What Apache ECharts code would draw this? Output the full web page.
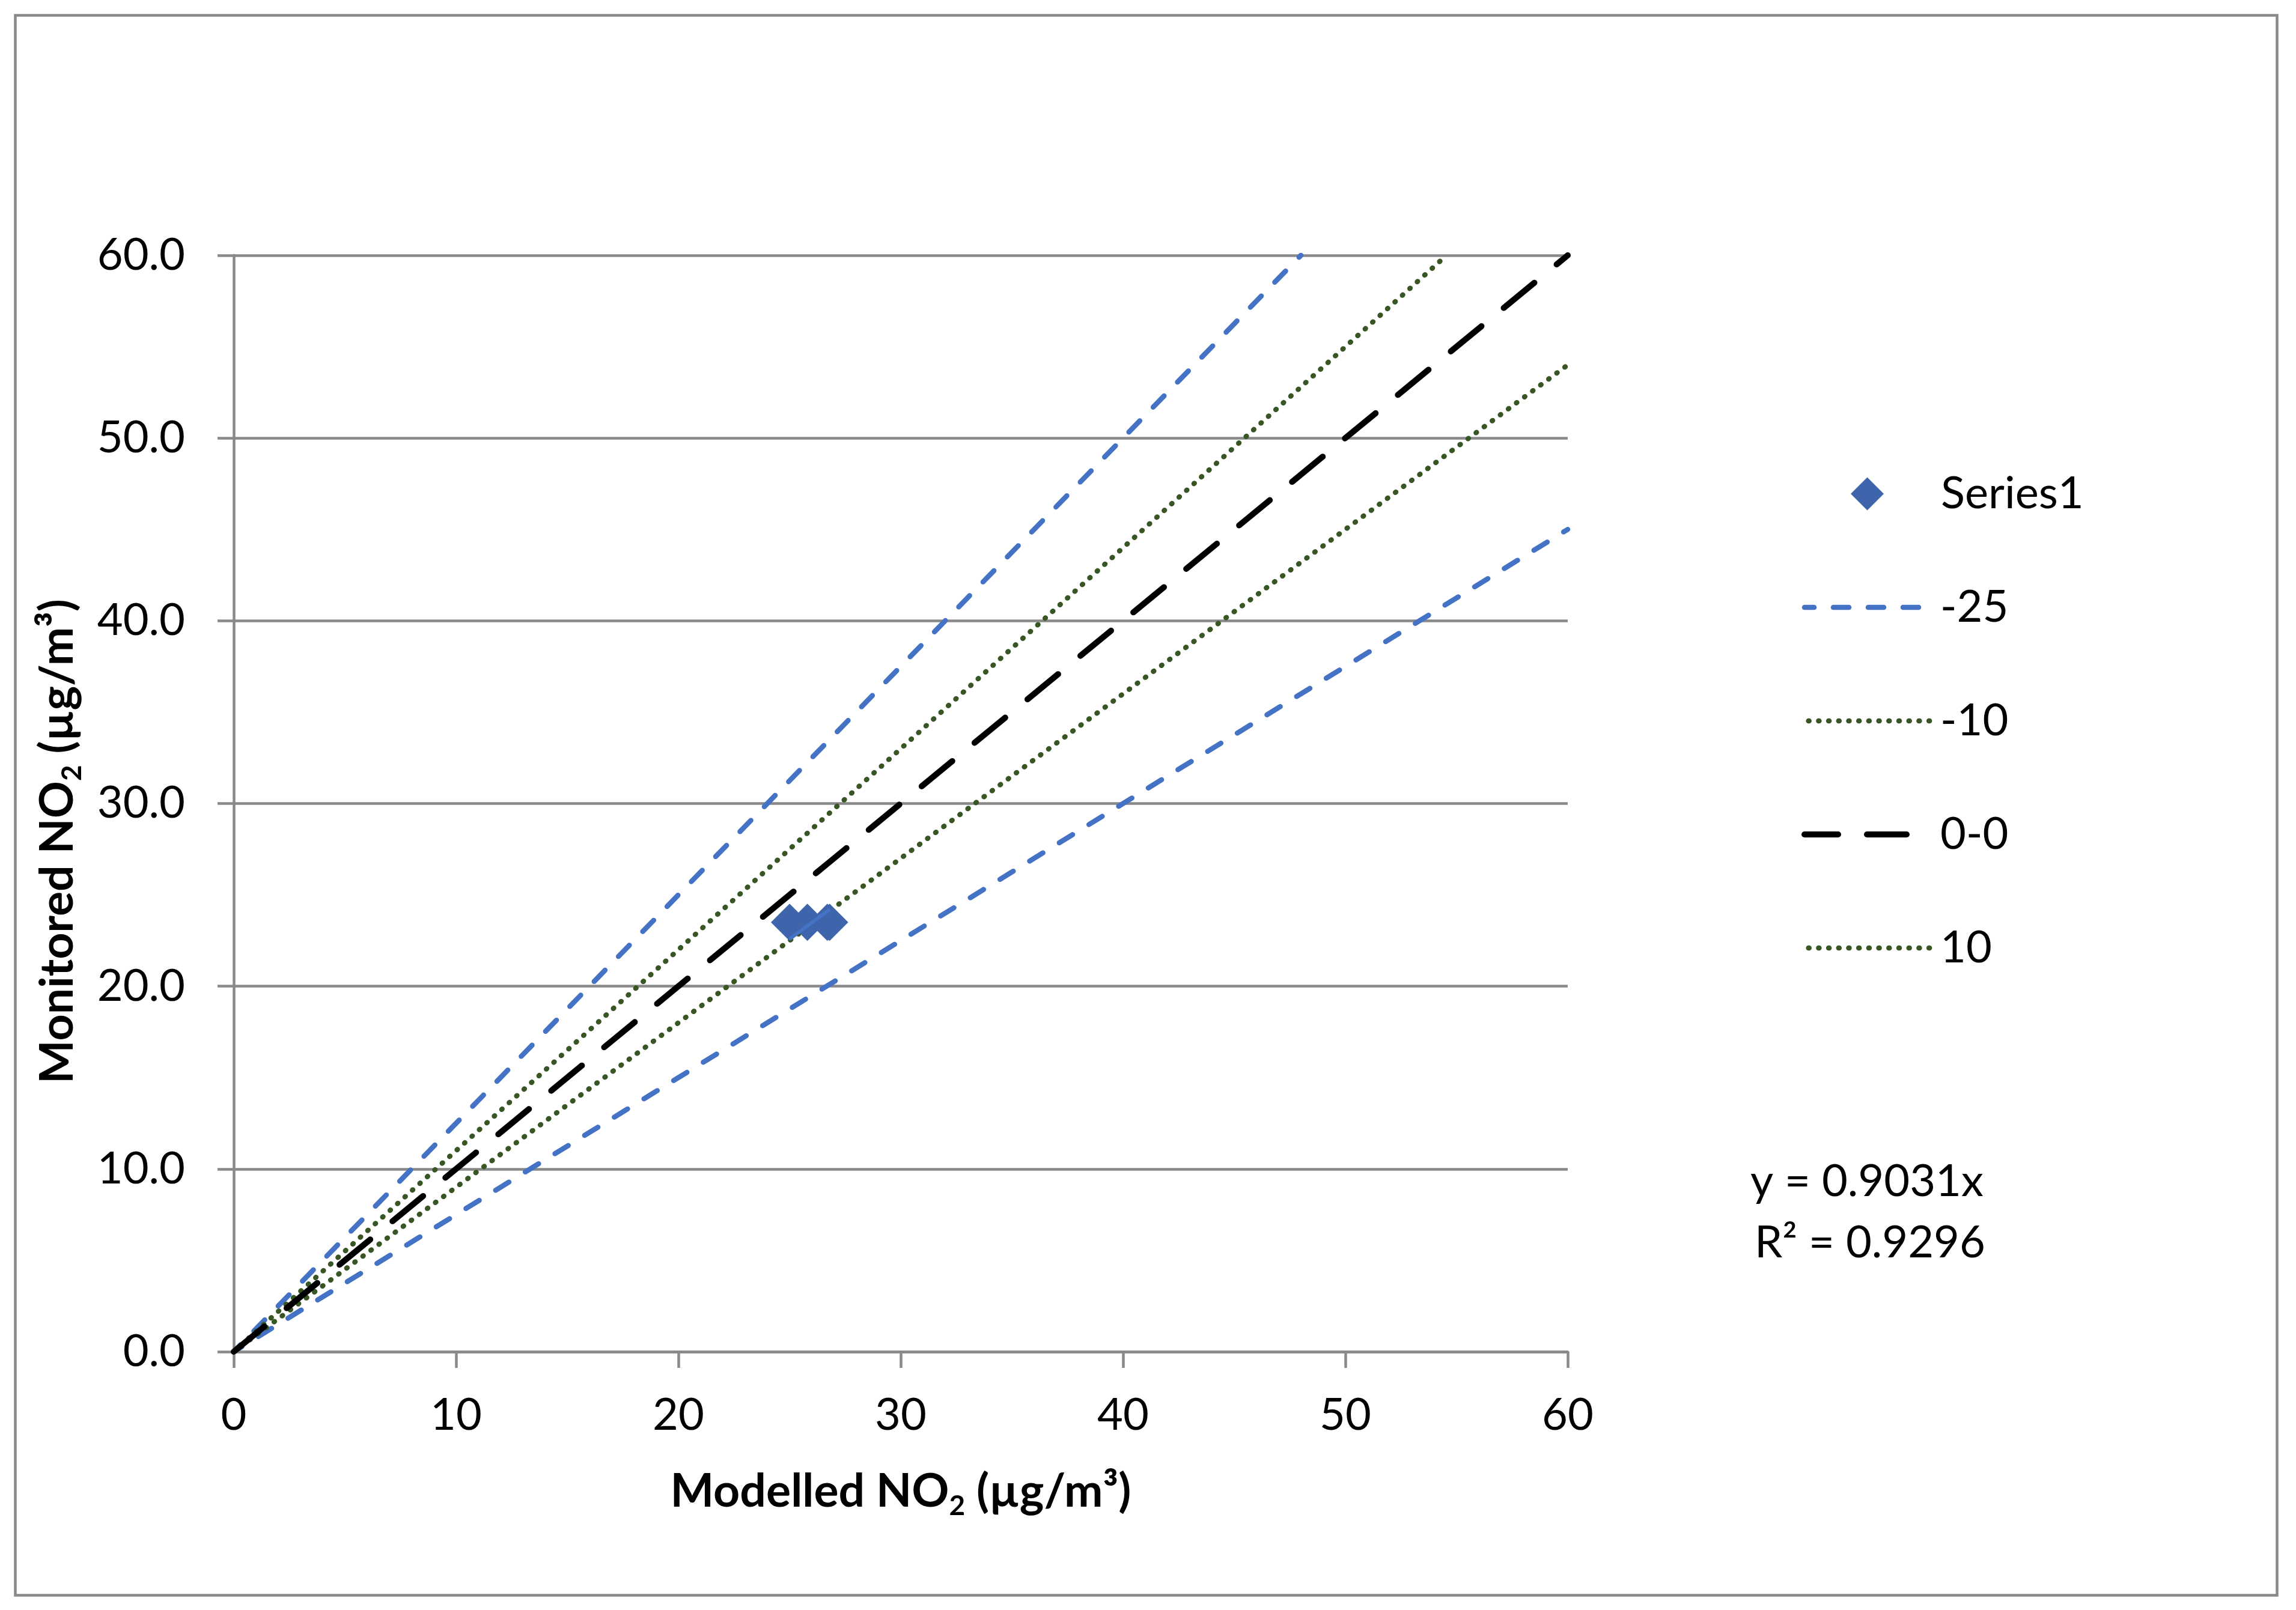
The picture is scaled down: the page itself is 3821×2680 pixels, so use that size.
<!DOCTYPE html>
<html><head><meta charset="utf-8">
<script src="https://cdn.jsdelivr.net/npm/echarts@6/dist/echarts.min.js"></script>
<style>html,body{margin:0;padding:0;background:#fff}#c{width:3821px;height:2680px}</style>
</head><body><div id="c"></div>
<script>
// ---- data ----
const xTicks = [0, 10, 20, 30, 40, 50, 60];
const yTicks = [0, 10, 20, 30, 40, 50, 60];
const series1Points = [[25.0, 23.5], [25.8, 23.5], [26.7, 23.5], [26.8, 23.5]];
const trendPoints = [[25.0, 22.58], [26.8, 24.20]];
const lineMinus25 = [[0, 0], [48, 60]];
const lineMinus10 = [[0, 0], [54.55, 60]];
const lineZero = [[0, 0], [60, 60]];
const linePlus10 = [[0, 0], [60, 54]];
const linePlus25 = [[0, 0], [60, 45]];
const legendPointNames = ['Series1'];
const legendLineNames = ['-25', '-10', '0-0', '10'];
const equationText = 'y = 0.9031x';
const r2Text = 'R\u00B2 = 0.9296';

const FONT = 'Lato, "Noto Sans", sans-serif';
const GRAY = '#898989';
const BLUE = '#4472C4';
const GREEN = '#375623';
const DIAMOND = '#3E64AC';

const titleRich = {
  b: {fontSize: 77, fontWeight: 'bold', fontFamily: FONT, color: '#000', lineHeight: 94},
  s: {fontSize: 46, fontWeight: 'bold', fontFamily: FONT, color: '#000', lineHeight: 28, verticalAlign: 'bottom'}
};

const chart = echarts.init(document.getElementById('c'), null, {renderer: 'canvas'});
const dashed = {color: BLUE, width: 8.5, type: [26, 32], dashOffset: 10, cap: 'round'};
const dotted = {color: GREEN, width: 8.5, type: [1, 15.7], cap: 'round'};
const longDash = {color: '#000', width: 10, type: [66, 48], cap: 'round'};

const legendText = {fontSize: 74, fontFamily: FONT, color: '#000', lineHeight: 74};

chart.setOption({
  backgroundColor: '#fff',
  animation: false,
  grid: {left: 389, right: 1212, top: 425, bottom: 430, containLabel: false},
  xAxis: {
    type: 'value', min: xTicks[0], max: xTicks[xTicks.length - 1], interval: 10,
    axisLine: {show: true, lineStyle: {color: GRAY, width: 4.5}},
    axisTick: {show: true, length: 27, lineStyle: {color: GRAY, width: 4.5}},
    splitLine: {show: false},
    axisLabel: {fontSize: 74, fontFamily: FONT, color: '#000', margin: 69},
    name: '{b|Modelled NO}{s|2}{b| (\u00B5g/m\u00B3)}',
    nameLocation: 'middle', nameGap: 186,
    nameTextStyle: {rich: titleRich}
  },
  yAxis: {
    type: 'value', min: yTicks[0], max: yTicks[yTicks.length - 1], interval: 10,
    axisLine: {show: true, lineStyle: {color: GRAY, width: 4.5}},
    axisTick: {show: true, length: 27, lineStyle: {color: GRAY, width: 4.5}},
    splitLine: {show: true, lineStyle: {color: GRAY, width: 4.5}},
    axisLabel: {fontSize: 74, fontFamily: FONT, color: '#000', margin: 81,
      formatter: v => v.toFixed(1)},
    name: '{b|Monitored NO}{s|2}{b| (\u00B5g/m\u00B3)}',
    nameLocation: 'middle', nameGap: 246, nameRotate: 90,
    nameTextStyle: {rich: titleRich, padding: [0, 126, 0, 0]}
  },
  legend: [
    {
      data: legendPointNames.map(n => ({name: n, icon: 'diamond'})),
      orient: 'vertical', left: 3075, top: 780,
      itemWidth: 55, itemHeight: 55,
      textStyle: Object.assign({padding: [0, 0, 0, 90]}, legendText),
      selectedMode: false
    },
    {
      data: legendLineNames.map(n => ({name: n, itemStyle: {opacity: 0, color: 'rgba(0,0,0,0)', borderWidth: 0}})),
      orient: 'vertical', left: 2993, top: 969,
      itemWidth: 209, itemHeight: 55, itemGap: 115,
      textStyle: Object.assign({padding: [0, 0, 0, 12]}, legendText),
      lineStyle: {width: 'inherit', type: 'inherit', cap: 'inherit'},
      selectedMode: false
    }
  ],
  series: [
    {name: '-25', type: 'line', data: lineMinus25, symbol: 'none', lineStyle: dashed, itemStyle: {color: BLUE}, z: 2},
    {name: '25', type: 'line', data: linePlus25, symbol: 'none', lineStyle: dashed, itemStyle: {color: BLUE}, z: 2},
    {name: '-10', type: 'line', data: lineMinus10, symbol: 'none', lineStyle: dotted, itemStyle: {color: GREEN}, z: 2},
    {name: '10', type: 'line', data: linePlus10, symbol: 'none', lineStyle: dotted, itemStyle: {color: GREEN}, z: 2},
    {name: '0-0', type: 'line', data: lineZero, symbol: 'none', lineStyle: longDash, itemStyle: {color: '#000'}, z: 2},
    {name: 'Series1', type: 'scatter', data: series1Points, symbol: 'diamond', symbolSize: [62, 62],
      itemStyle: {color: DIAMOND, opacity: 1}, z: 3},
    {name: 'Linear (Series1)', type: 'line', data: trendPoints, symbol: 'none',
      lineStyle: {color: BLUE, width: 6}, z: 4}
  ],
  graphic: [
    {type: 'rect', shape: {x: 25.5, y: 25.5, width: 3764, height: 2630}, silent: true,
      style: {fill: 'none', stroke: GRAY, lineWidth: 4.5}, z: -1},
    {type: 'text', x: 2913, y: 1967, silent: true,
      style: {text: equationText, font: '74px ' + FONT, fill: '#000', verticalAlign: 'middle', align: 'left'}},
    {type: 'text', x: 2920, y: 2069, silent: true,
      style: {text: r2Text, font: '74px ' + FONT, fill: '#000', verticalAlign: 'middle', align: 'left'}}
  ]
});
</script></body></html>
